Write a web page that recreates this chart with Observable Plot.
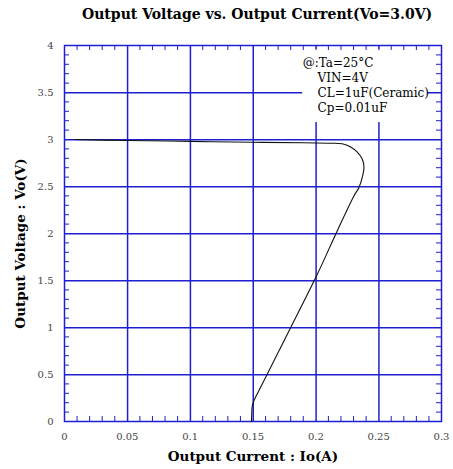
<!DOCTYPE html>
<html>
<head>
<meta charset="utf-8">
<script src="https://cdn.jsdelivr.net/npm/d3@7"></script>
<script src="https://cdn.jsdelivr.net/npm/@observablehq/plot@0.6"></script>
<style>
  html, body { margin: 0; padding: 0; background: #fff; }
  #title { box-sizing: border-box; height: 30px; padding-top: 6px; line-height: 20px; font: bold 14px "DejaVu Serif", serif; color: #000; padding-left: 82px; white-space: nowrap; }
  #chart svg { display: block; }
</style>
</head>
<body>
<div id="title"></div>
<div id="chart"></div>
<script>
const titleText = "Output Voltage vs. Output Current(Vo=3.0V)";
const xLabel = "Output Current : Io(A)";
const yLabel = "Output Voltage : Vo(V)";
const xTicks = [0, 0.05, 0.1, 0.15, 0.2, 0.25, 0.3];
const yTicks = [0, 0.5, 1, 1.5, 2, 2.5, 3, 3.5, 4];
const noteLines = ["@:Ta=25°C", "VIN=4V", "CL=1uF(Ceramic)", "Cp=0.01uF"];

// Output current (A) and output voltage (V) along the curve
const current = [0.008, 0.05, 0.1, 0.15, 0.19, 0.21, 0.221, 0.2277, 0.233, 0.237, 0.2383, 0.237, 0.2343, 0.2303, 0.2171, 0.2006, 0.18, 0.165, 0.1525, 0.1507, 0.1494, 0.149, 0.1488];
const voltage = [3.0, 2.99, 2.98, 2.97, 2.965, 2.96, 2.955, 2.92, 2.865, 2.79, 2.705, 2.6, 2.49, 2.40, 2.03, 1.55, 1.0, 0.60, 0.27, 0.22, 0.16, 0.08, 0.0];

const curve = current.map((c, i) => ({x: c, y: voltage[i]}));

document.getElementById("title").textContent = titleText;

const blue = "#1e1ed2";
const minorX = d3.range(0, 31).map(i => i / 100).filter(v => Math.round(v * 100) % 5 !== 0);
const minorY = d3.range(0, 41).map(i => i / 10).filter(v => Math.round(v * 10) % 5 !== 0);
const majorX = xTicks.slice(1, -1);
const majorY = yTicks.slice(1, -1);

const W = 453, H = 439, ML = 64, MR = 12, MT = 15, MB = 48;
const fw = W - ML - MR, fh = H - MT - MB, tick = 5;

const chart = Plot.plot({
  width: W,
  height: H,
  marginLeft: ML,
  marginRight: MR,
  marginTop: MT,
  marginBottom: MB,
  style: {fontFamily: "DejaVu Serif", background: "#fff"},
  x: {domain: [0, 0.3], axis: null},
  y: {domain: [0, 4], axis: null},
  marks: [
    Plot.ruleX(majorX, {x: d => d, stroke: blue, strokeWidth: 1.5, dx: 0.25}),
    Plot.ruleY(majorY, {y: d => d, stroke: blue, strokeWidth: 1.5, dy: 0.25}),
    Plot.rect([noteLines], {x1: 0.1895, x2: 0.289, y1: 3.18, y2: 3.95, fill: "#fff"}),
    Plot.tickX(minorX, {x: d => d, stroke: blue, insetTop: fh - tick}),
    Plot.tickX(minorX, {x: d => d, stroke: blue, insetBottom: fh - tick}),
    Plot.tickY(minorY, {y: d => d, stroke: blue, insetRight: fw - tick}),
    Plot.tickY(minorY, {y: d => d, stroke: blue, insetLeft: fw - tick}),
    Plot.text(xTicks, {x: d => d, frameAnchor: "bottom", dy: 15, text: d => String(d), fontSize: 10, fill: "#444", lineAnchor: "middle"}),
    Plot.text(yTicks, {y: d => d, frameAnchor: "left", dx: -11, text: d => String(d), fontSize: 10, fill: "#444", textAnchor: "end", lineAnchor: "middle"}),
    Plot.frame({stroke: blue, strokeWidth: 1.5}),
    Plot.line(curve, {x: "x", y: "y", stroke: "#111", strokeWidth: 1.1, curve: "catmull-rom"}),
    Plot.text(noteLines, {
      x: (d, i) => i === 0 ? 0.1895 : 0.2014,
      y: (d, i) => 3.809 - i * 0.16,
      text: d => d, textAnchor: "start", fontSize: 12, fill: "#000"
    }),
    Plot.text([xLabel], {frameAnchor: "bottom", dy: 35, text: d => d, fontSize: 13.5, fontWeight: "bold", fill: "#000", lineAnchor: "middle", textAnchor: "middle"}),
    Plot.text([yLabel], {frameAnchor: "left", dx: -44, dy: 10, rotate: -90, text: d => d, fontSize: 13.5, fontWeight: "bold", fill: "#000", lineAnchor: "middle", textAnchor: "middle"})
  ]
});
document.getElementById("chart").appendChild(chart);
</script>
</body>
</html>
